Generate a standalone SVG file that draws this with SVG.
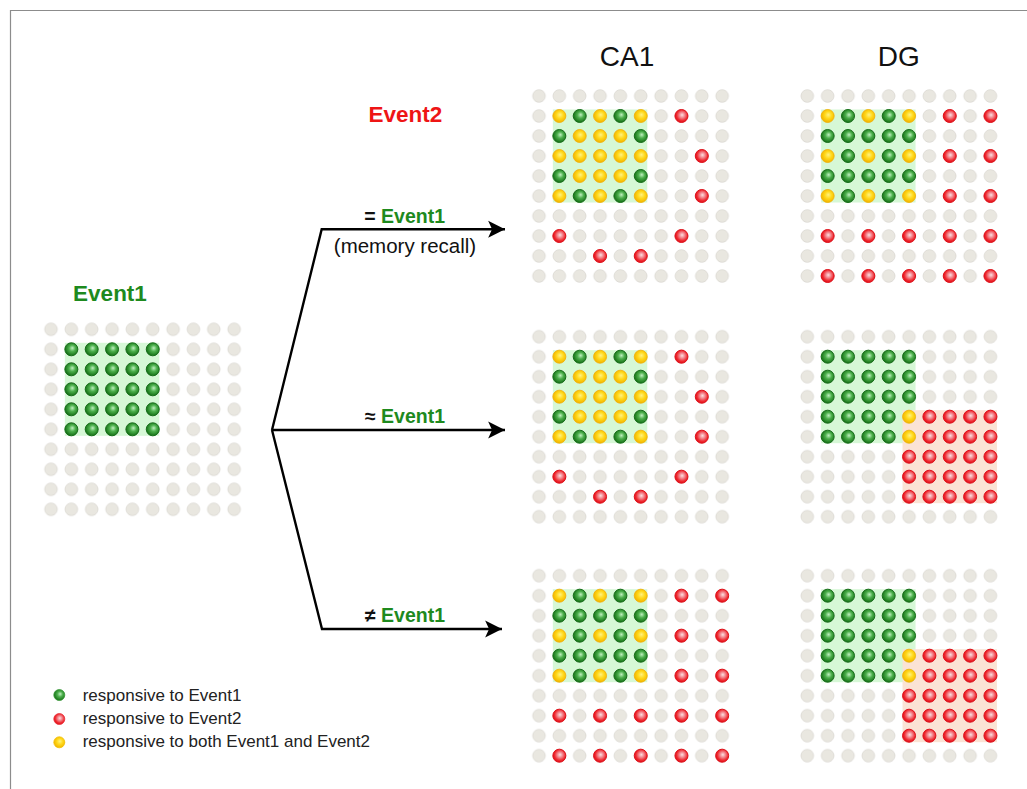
<svg xmlns="http://www.w3.org/2000/svg" xmlns:xlink="http://www.w3.org/1999/xlink" width="1027" height="789" viewBox="0 0 1027 789">
<style>
text{font-family:"Liberation Sans",Arial,sans-serif}
.title{font-size:28px;fill:#111}
.lbl{font-size:19.5px;font-weight:bold;fill:#111}
.ev1{fill:#1e8a1e;font-weight:bold}
.ev2{fill:#ee1515;font-weight:bold}
.leg{font-size:17px;fill:#222}
.conn{fill:none;stroke:#000;stroke-width:2.4;stroke-linejoin:miter}
.hg{fill:#d6f8d6}
.hr{fill:#fbe3d5}
</style>
<defs>
<radialGradient id="gG" cx="55%" cy="45%" r="55%" fx="58%" fy="40%">
<stop offset="0" stop-color="#c0f0c0"/><stop offset="0.45" stop-color="#4caf4c"/><stop offset="1" stop-color="#157015"/>
</radialGradient>
<radialGradient id="gR" cx="55%" cy="45%" r="55%" fx="55%" fy="42%">
<stop offset="0" stop-color="#fde0e0"/><stop offset="0.4" stop-color="#f28088"/><stop offset="0.75" stop-color="#ef2a30"/><stop offset="1" stop-color="#e0101a"/>
</radialGradient>
<radialGradient id="gY" cx="55%" cy="45%" r="55%" fx="55%" fy="40%">
<stop offset="0" stop-color="#fff280"/><stop offset="0.5" stop-color="#ffd81a"/><stop offset="1" stop-color="#f2b400"/>
</radialGradient>
<pattern id="pg" patternUnits="userSpaceOnUse" x="-10.175" y="-10" width="20.35" height="20">
<circle cx="10.175" cy="10" r="6.3" fill="#e9e7e0" stroke="#dad8d1" stroke-width="0.8"/>
</pattern>
<circle id="G" r="6.5" fill="url(#gG)" stroke="#16701a" stroke-width="1"/>
<circle id="R" r="6.5" fill="url(#gR)" stroke="#e0101a" stroke-width="1"/>
<circle id="Y" r="6.5" fill="url(#gY)" stroke="#f0b400" stroke-width="0.8"/>
<rect id="grey" x="-10.175" y="-10" width="203.5" height="200" fill="url(#pg)"/>
<marker id="arr" markerUnits="userSpaceOnUse" markerWidth="18" markerHeight="18" viewBox="0 0 16 16" refX="15" refY="8" orient="auto">
<path d="M0,0.5 L15,8 L0,15.5 L3.5,8 Z" fill="#000"/>
</marker>
<g id="patE">
<rect class="hg" x="13.85" y="13.5" width="94.4" height="93"/>
<use href="#grey"/>
<use href="#G" x="20.35" y="20"/><use href="#G" x="40.7" y="20"/><use href="#G" x="61.05" y="20"/><use href="#G" x="81.4" y="20"/><use href="#G" x="101.75" y="20"/>
<use href="#G" x="20.35" y="40"/><use href="#G" x="40.7" y="40"/><use href="#G" x="61.05" y="40"/><use href="#G" x="81.4" y="40"/><use href="#G" x="101.75" y="40"/>
<use href="#G" x="20.35" y="60"/><use href="#G" x="40.7" y="60"/><use href="#G" x="61.05" y="60"/><use href="#G" x="81.4" y="60"/><use href="#G" x="101.75" y="60"/>
<use href="#G" x="20.35" y="80"/><use href="#G" x="40.7" y="80"/><use href="#G" x="61.05" y="80"/><use href="#G" x="81.4" y="80"/><use href="#G" x="101.75" y="80"/>
<use href="#G" x="20.35" y="100"/><use href="#G" x="40.7" y="100"/><use href="#G" x="61.05" y="100"/><use href="#G" x="81.4" y="100"/><use href="#G" x="101.75" y="100"/>
</g>
<g id="patA">
<rect class="hg" x="13.85" y="13.5" width="94.4" height="93"/>
<use href="#grey"/>
<use href="#Y" x="20.35" y="20"/><use href="#G" x="40.7" y="20"/><use href="#Y" x="61.05" y="20"/><use href="#G" x="81.4" y="20"/><use href="#Y" x="101.75" y="20"/><use href="#R" x="142.45" y="20"/>
<use href="#G" x="20.35" y="40"/><use href="#Y" x="40.7" y="40"/><use href="#Y" x="61.05" y="40"/><use href="#Y" x="81.4" y="40"/><use href="#G" x="101.75" y="40"/>
<use href="#Y" x="20.35" y="60"/><use href="#Y" x="40.7" y="60"/><use href="#Y" x="61.05" y="60"/><use href="#Y" x="81.4" y="60"/><use href="#Y" x="101.75" y="60"/><use href="#R" x="162.8" y="60"/>
<use href="#G" x="20.35" y="80"/><use href="#Y" x="40.7" y="80"/><use href="#Y" x="61.05" y="80"/><use href="#Y" x="81.4" y="80"/><use href="#G" x="101.75" y="80"/>
<use href="#Y" x="20.35" y="100"/><use href="#G" x="40.7" y="100"/><use href="#Y" x="61.05" y="100"/><use href="#G" x="81.4" y="100"/><use href="#Y" x="101.75" y="100"/><use href="#R" x="162.8" y="100"/>
<use href="#R" x="20.35" y="140"/><use href="#R" x="142.45" y="140"/>
<use href="#R" x="61.05" y="160"/><use href="#R" x="101.75" y="160"/>
</g>
<g id="patB">
<rect class="hg" x="13.85" y="13.5" width="94.4" height="93"/>
<use href="#grey"/>
<use href="#Y" x="20.35" y="20"/><use href="#G" x="40.7" y="20"/><use href="#Y" x="61.05" y="20"/><use href="#G" x="81.4" y="20"/><use href="#Y" x="101.75" y="20"/><use href="#R" x="142.45" y="20"/><use href="#R" x="183.15" y="20"/>
<use href="#G" x="20.35" y="40"/><use href="#G" x="40.7" y="40"/><use href="#G" x="61.05" y="40"/><use href="#G" x="81.4" y="40"/><use href="#G" x="101.75" y="40"/>
<use href="#Y" x="20.35" y="60"/><use href="#G" x="40.7" y="60"/><use href="#Y" x="61.05" y="60"/><use href="#G" x="81.4" y="60"/><use href="#Y" x="101.75" y="60"/><use href="#R" x="142.45" y="60"/><use href="#R" x="183.15" y="60"/>
<use href="#G" x="20.35" y="80"/><use href="#G" x="40.7" y="80"/><use href="#G" x="61.05" y="80"/><use href="#G" x="81.4" y="80"/><use href="#G" x="101.75" y="80"/>
<use href="#Y" x="20.35" y="100"/><use href="#G" x="40.7" y="100"/><use href="#Y" x="61.05" y="100"/><use href="#G" x="81.4" y="100"/><use href="#Y" x="101.75" y="100"/><use href="#R" x="142.45" y="100"/><use href="#R" x="183.15" y="100"/>
<use href="#R" x="20.35" y="140"/><use href="#R" x="61.05" y="140"/><use href="#R" x="101.75" y="140"/><use href="#R" x="142.45" y="140"/><use href="#R" x="183.15" y="140"/>
<use href="#R" x="20.35" y="180"/><use href="#R" x="61.05" y="180"/><use href="#R" x="101.75" y="180"/><use href="#R" x="142.45" y="180"/><use href="#R" x="183.15" y="180"/>
</g>
<g id="patC">
<rect class="hg" x="13.85" y="13.5" width="94.4" height="93"/>
<rect class="hr" x="95.25" y="73.5" width="94.4" height="93"/>
<use href="#grey"/>
<use href="#G" x="20.35" y="20"/><use href="#G" x="40.7" y="20"/><use href="#G" x="61.05" y="20"/><use href="#G" x="81.4" y="20"/><use href="#G" x="101.75" y="20"/>
<use href="#G" x="20.35" y="40"/><use href="#G" x="40.7" y="40"/><use href="#G" x="61.05" y="40"/><use href="#G" x="81.4" y="40"/><use href="#G" x="101.75" y="40"/>
<use href="#G" x="20.35" y="60"/><use href="#G" x="40.7" y="60"/><use href="#G" x="61.05" y="60"/><use href="#G" x="81.4" y="60"/><use href="#G" x="101.75" y="60"/>
<use href="#G" x="20.35" y="80"/><use href="#G" x="40.7" y="80"/><use href="#G" x="61.05" y="80"/><use href="#G" x="81.4" y="80"/><use href="#Y" x="101.75" y="80"/><use href="#R" x="122.1" y="80"/><use href="#R" x="142.45" y="80"/><use href="#R" x="162.8" y="80"/><use href="#R" x="183.15" y="80"/>
<use href="#G" x="20.35" y="100"/><use href="#G" x="40.7" y="100"/><use href="#G" x="61.05" y="100"/><use href="#G" x="81.4" y="100"/><use href="#Y" x="101.75" y="100"/><use href="#R" x="122.1" y="100"/><use href="#R" x="142.45" y="100"/><use href="#R" x="162.8" y="100"/><use href="#R" x="183.15" y="100"/>
<use href="#R" x="101.75" y="120"/><use href="#R" x="122.1" y="120"/><use href="#R" x="142.45" y="120"/><use href="#R" x="162.8" y="120"/><use href="#R" x="183.15" y="120"/>
<use href="#R" x="101.75" y="140"/><use href="#R" x="122.1" y="140"/><use href="#R" x="142.45" y="140"/><use href="#R" x="162.8" y="140"/><use href="#R" x="183.15" y="140"/>
<use href="#R" x="101.75" y="160"/><use href="#R" x="122.1" y="160"/><use href="#R" x="142.45" y="160"/><use href="#R" x="162.8" y="160"/><use href="#R" x="183.15" y="160"/>
</g>
</defs>
<rect width="1027" height="789" fill="#fff"/>
<g id="frame" stroke="#8c8c8c" stroke-width="1.2" fill="none">
<path d="M10.5,789 V10.5 H1027"/>
</g>
<g id="titles">
<text class="title" x="627" y="66" text-anchor="middle">CA1</text>
<text class="title" x="898.7" y="65.5" text-anchor="middle">DG</text>
<text class="ev2" x="405.3" y="121.7" text-anchor="middle" font-size="22.5">Event2</text>
</g>
<g id="event1">
<text class="ev1" x="110" y="301" text-anchor="middle" font-size="22.5">Event1</text>
<g id="event1-grid" transform="translate(51,329.3)"><use href="#patE"/></g>
</g>
<g id="ca1-same" transform="translate(539,96)"><use href="#patA"/></g>
<g id="dg-same" transform="translate(807.3,96)"><use href="#patB"/></g>
<g id="ca1-similar" transform="translate(539,336.7)"><use href="#patA"/></g>
<g id="dg-similar" transform="translate(807.3,336.7)"><use href="#patC"/></g>
<g id="ca1-different" transform="translate(539,575.7)"><use href="#patB"/></g>
<g id="dg-different" transform="translate(807.3,575.7)"><use href="#patC"/></g>
<g id="connectors">
<path class="conn" d="M272,430 L321.7,229.3 L505,229.3" marker-end="url(#arr)"/>
<path class="conn" d="M272,430 L505,430" marker-end="url(#arr)"/>
<path class="conn" d="M272,430 L322,629 L502,629" marker-end="url(#arr)"/>
<text class="lbl" x="445" y="222.7" text-anchor="end">= <tspan class="ev1">Event1</tspan></text>
<text x="405" y="252.7" text-anchor="middle" font-size="20.5" fill="#111">(memory recall)</text>
<text class="lbl" x="445" y="423.2" text-anchor="end">≈ <tspan class="ev1">Event1</tspan></text>
<text class="lbl" x="445" y="622.2" text-anchor="end">≠ <tspan class="ev1">Event1</tspan></text>
</g>
<g id="legend">
<circle cx="59.3" cy="695" r="5.5" fill="url(#gG)" stroke="#3a9a3a" stroke-width="0.8"/>
<circle cx="59.3" cy="719" r="5.5" fill="url(#gR)" stroke="#e8303a" stroke-width="0.8"/>
<circle cx="59.3" cy="742.3" r="5.5" fill="url(#gY)" stroke="#f2c000" stroke-width="0.8"/>
<text class="leg" x="82.7" y="700.7">responsive to Event1</text>
<text class="leg" x="82.7" y="724">responsive to Event2</text>
<text class="leg" x="82.7" y="747.3">responsive to both Event1 and Event2</text>
</g>
</svg>
